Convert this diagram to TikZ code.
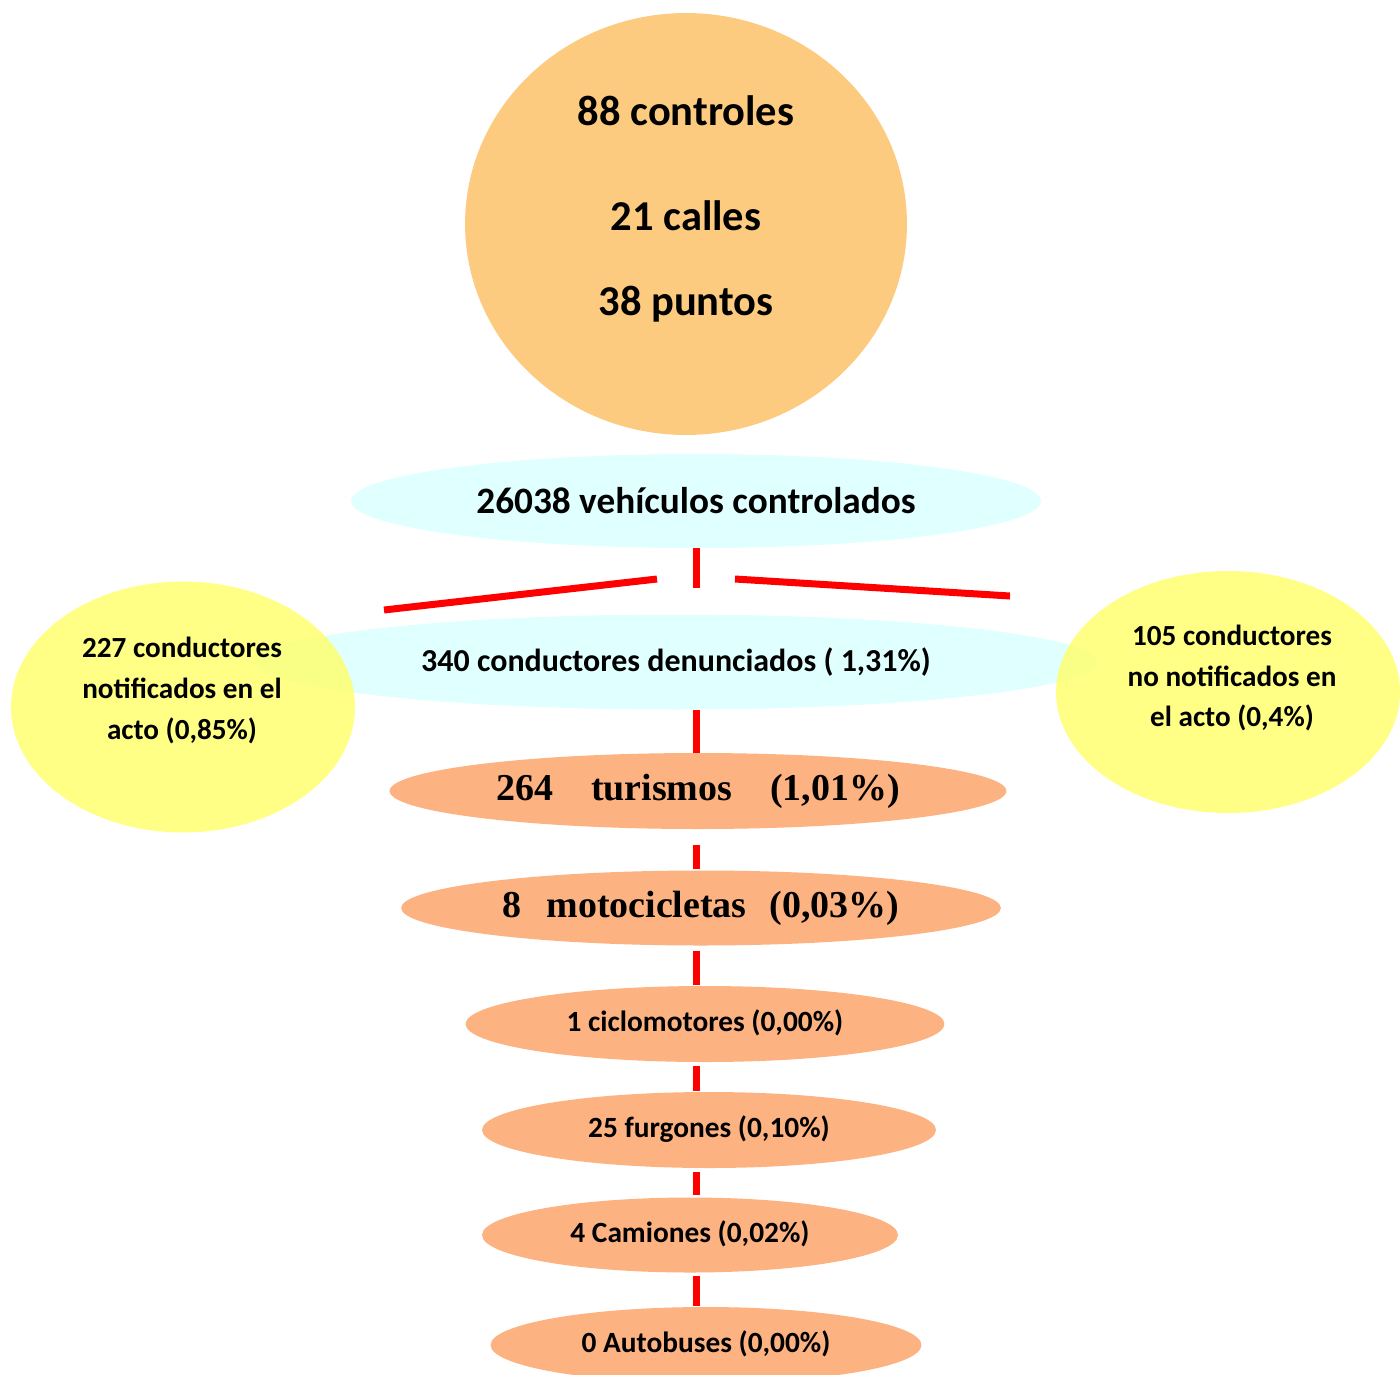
\documentclass[tikz,border=0pt]{standalone}
\usepackage{fontspec}
\setmainfont{Carlito}
\newfontfamily\timesfont{Liberation Serif}
\usetikzlibrary{shapes.geometric}
\definecolor{circfill}{HTML}{FDCB80}
\definecolor{cyanfill}{HTML}{E0FFFF}
\definecolor{yellowfill}{HTML}{FFFF66}
\definecolor{salmonfill}{HTML}{FCB281}
\definecolor{linered}{HTML}{FF0000}
\begin{document}
\begin{tikzpicture}[x=0.02cm,y=-0.02cm,
  ell/.style={ellipse, inner sep=0pt, font=\bfseries},
  cyanell/.style={ell, fill=cyanfill},
  salm/.style={ell, fill=salmonfill},
  yell/.style={ell, fill=yellowfill, fill opacity=0.8},
  bigtxt/.style={inner sep=0pt, font=\bfseries\fontsize{24.2}{29}\selectfont},
  ytxt/.style={inner sep=0pt, align=center, font=\bfseries\fontsize{16.6}{23.3}\selectfont},
  smalltxt/.style={font=\bfseries\fontsize{16.7}{20}\selectfont, text height=1.1em, text depth=0.2em},
  seriftxt/.style={font=\timesfont\bfseries\fontsize{21.6}{26}\selectfont},
  redline/.style={draw=linered, line width=0.14cm}]
\useasboundingbox (0,0) rectangle (1400,1374);

% top circle
\node[ell, fill=circfill, minimum width=8.84cm, minimum height=8.44cm] (circ) at (686,224) {};
\node[bigtxt] (c1) at (686,111) {88 controles};
\node[bigtxt] (c2) at (686,216) {21 calles};
\node[bigtxt] (c3) at (686,304) {38 puntos};

% cyan ellipses
\node[cyanell, minimum width=13.8cm, minimum height=1.88cm, font=\bfseries\fontsize{21.2}{25}\selectfont] (veh) at (696,501) {26038 vehículos controlados};
\node[cyanell, minimum width=16.86cm, minimum height=1.9cm, font=\bfseries\fontsize{18.2}{22}\selectfont] (den) at (676,662) {340 conductores denunciados ( 1,31\%)};

% yellow ellipses
\node[yell, minimum width=6.88cm, minimum height=5.02cm] (ynot) at (183,707) {};
\node[ytxt] (ynott) at (182,690.5) {227 conductores\\notificados en el\\acto (0,85\%)};
\node[yell, minimum width=6.88cm, minimum height=4.84cm] (nnot) at (1228,692) {};
\node[ytxt] (nnott) at (1232,678) {105 conductores\\no notificados en\\el acto (0,4\%)};

% salmon ellipses
\node[salm, seriftxt, minimum width=12.34cm, minimum height=1.52cm] (tur) at (698,791) {264\hspace{1em}turismos\hspace{1em}(1,01\%)};
\node[salm, seriftxt, minimum width=12.0cm, minimum height=1.5cm] (mot) at (701,908) {8\hspace{0.65em}motocicletas\hspace{0.6em}(0,03\%)};
\node[salm, smalltxt, minimum width=9.58cm, minimum height=1.52cm] (cic) at (705,1024) {1 ciclomotores (0,00\%)};
\node[salm, smalltxt, minimum width=9.08cm, minimum height=1.52cm] (fur) at (709,1130) {25 furgones (0,10\%)};
\node[salm, smalltxt, minimum width=8.32cm, minimum height=1.5cm] (cam) at (690,1235) {4 Camiones (0,02\%)};
\node[salm, smalltxt, minimum width=8.62cm, minimum height=1.52cm] (aut) at (706,1345) {0 Autobuses (0,00\%)};

% connectors
\coordinate (axis) at (696,0);
\coordinate (vend) at (696,588);
\coordinate (la) at (657,579);
\coordinate (lb) at (384,610);
\coordinate (ra) at (735,579);
\coordinate (rb) at (1010,596);
\draw[redline] (veh.south -| axis) -- (vend);
\draw[redline] (la) -- (lb);
\draw[redline] (ra) -- (rb);
\draw[redline] (den.south -| axis) -- (tur.north -| axis);
\draw[redline, shorten <=9pt, shorten >=0.5pt] (tur.south -| axis) -- (mot.north -| axis);
\draw[redline, shorten <=3pt, shorten >=0.5pt] (mot.south -| axis) -- (cic.north -| axis);
\draw[redline, shorten <=2pt, shorten >=0.5pt] (cic.south -| axis) -- (fur.north -| axis);
\draw[redline, shorten <=2pt, shorten >=1pt] (fur.south -| axis) -- (cam.north -| axis);
\draw[redline, shorten <=2pt, shorten >=0.5pt] (cam.south -| axis) -- (aut.north -| axis);
\end{tikzpicture}
\end{document}
